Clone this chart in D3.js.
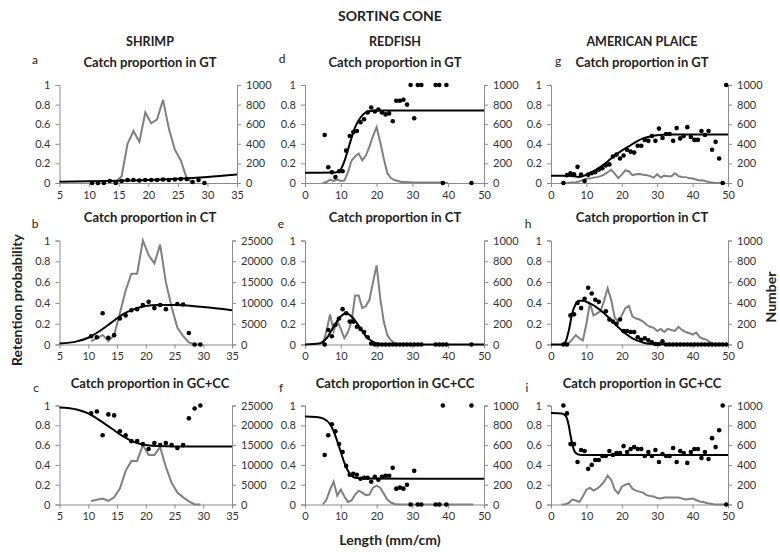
<!DOCTYPE html>
<html><head><meta charset="utf-8">
<script src="https://cdn.jsdelivr.net/npm/d3@7/dist/d3.min.js"></script>
<style>body{margin:0;background:#fff;} svg{display:block;font-family:Lato,'Open Sans',sans-serif;}</style>
</head><body><svg id="c" width="780" height="552"></svg>
<script>
// ---------- DATA ----------
const speciesNames = ["SHRIMP", "REDFISH", "AMERICAN PLAICE"];
const panelTitles = ["Catch proportion in GT", "Catch proportion in CT", "Catch proportion in GC+CC"];
const panelLetters = [["a","b","c"],["d","e","f"],["g","h","i"]];
const shrimpTicks = [5,10,15,20,25,30,35];
const fishTicks = [0,10,20,30,40,50];
const numTicks1000 = [0,200,400,600,800,1000];
const numTicks25000 = [0,5000,10000,15000,20000,25000];
const probTicks = [0,0.2,0.4,0.6,0.8,1];

// a: shrimp GT
const aNum = [[13.5,30],[14.5,10],[15.5,70],[16.5,400],[17.5,530],[18.5,420],[19.5,720],[20.5,610],[21.5,650],[22.5,850],[23.5,550],[24.5,340],[25.5,230],[26.5,50],[27.5,0]];
const aDots = [[10.5,0],[11.5,0],[12.5,0],[13.5,0.02],[14.5,0],[15.5,0.02],[16.5,0.03],[17.5,0.03],[18.5,0.025],[19.5,0.03],[20.5,0.03],[21.5,0.03],[22.5,0.035],[23.5,0.03],[24.5,0.035],[25.5,0.04],[26.5,0.04],[27.5,0.01],[28.5,0.03],[29.5,0]];
const aFit = [[5,0.013],[10,0.017],[15,0.023],[20,0.03],[25,0.043],[30,0.062],[35,0.087]];
// b: shrimp CT
const bNum = [[10.5,800],[11.5,1500],[12.5,2300],[13.5,800],[14.5,2200],[15.5,7500],[16.5,13000],[17.5,17000],[18.5,17000],[19.5,25000],[20.5,21500],[21.5,19500],[22.5,24000],[23.5,15000],[24.5,9000],[25.5,4000],[26.5,2000],[27.5,500],[28.5,0],[29.5,0]];
const bDots = [[10.5,0.08],[11.5,0.07],[12.5,0.3],[13.5,0.065],[14.5,0.09],[15.5,0.25],[16.5,0.28],[17.5,0.33],[18.5,0.34],[19.5,0.38],[20.5,0.41],[21.5,0.35],[22.5,0.38],[23.5,0.34],[25.5,0.39],[26.5,0.385],[27.5,0.11],[28.5,0],[29.5,0]];
const bFit = [[5,0.01],[8,0.03],[10,0.065],[12,0.13],[14,0.21],[16,0.29],[18,0.34],[20,0.37],[22,0.38],[25,0.38],[30,0.36],[35,0.33]];
// c: shrimp GC+CC
const cNum = [[10.5,900],[11.5,1200],[12.5,1500],[13.5,900],[14.5,1800],[15.5,4000],[16.5,8500],[17.5,11000],[18.5,11000],[19.5,15000],[20.5,12500],[21.5,12500],[22.5,14500],[23.5,9500],[24.5,5500],[25.5,3000],[26.5,1800],[27.5,800],[28.5,0],[29.5,0]];
const cDots = [[10.5,0.92],[11.5,0.94],[12.5,0.7],[13.5,0.91],[14.5,0.9],[15.5,0.74],[16.5,0.7],[17.5,0.64],[18.5,0.64],[19.5,0.61],[20.5,0.56],[21.5,0.62],[22.5,0.6],[23.5,0.62],[24.5,0.6],[25.5,0.57],[26.5,0.6],[27.5,0.87],[28.5,0.97],[29.5,1.0]];
const cFit = [[5,0.98],[8,0.96],[10,0.92],[12,0.85],[14,0.77],[16,0.69],[18,0.63],[20,0.6],[22,0.59],[25,0.585],[35,0.585]];
// d: redfish GT
const dNum = [[5,0],[6,10],[7,35],[8,20],[9,35],[10,20],[11,25],[12,110],[13,230],[14,270],[15,300],[16,230],[17,280],[18,370],[19,480],[20,570],[21,420],[22,250],[23,100],[24,50],[25,30],[26,20],[27,10],[28,10],[30,5],[35,5],[38,5],[40,0]];
const dDots = [[5.5,0.49],[6.5,0.16],[7.5,0.11],[8.5,0.06],[9.5,0.12],[10.5,0.12],[11.5,0.33],[12.5,0.48],[13.5,0.52],[14.5,0.53],[15.5,0.62],[16.5,0.65],[17.5,0.72],[18.5,0.77],[19.5,0.73],[20.5,0.75],[21.5,0.72],[22.5,0.7],[23.5,0.71],[24.5,0.63],[25.5,0.84],[26.5,0.84],[27.5,0.85],[28.5,0.8],[29.5,1],[30.5,0.66],[31.5,1],[32.5,1],[36.5,1],[37.5,1],[38.5,0],[39.5,1],[46.5,0]];
const dFit = [[0,0.105],[8,0.106],[9,0.112],[10,0.14],[11,0.22],[12,0.34],[13,0.46],[14,0.57],[15,0.64],[16,0.69],[17,0.72],[18,0.733],[20,0.74],[50,0.74]];
// e: redfish CT
const eNum = [[5,0],[6,130],[7,290],[8,130],[9,230],[10,150],[11,60],[12,120],[13,220],[14,470],[15,470],[16,350],[17,370],[18,430],[19,600],[20,760],[21,450],[22,220],[23,90],[24,40],[25,15],[26,0]];
const eDots = [[5.5,0],[6.5,0.14],[7.5,0.08],[8.5,0.19],[9.5,0.25],[10.5,0.34],[11.5,0.3],[12.5,0.22],[13.5,0.22],[14.5,0.17],[15.5,0.15],[16.5,0.12],[17.5,0.07],[18.5,0.01],[19.5,0],[20.5,0],[21.5,0],[22.5,0],[23.5,0],[24.5,0],[25.5,0],[26.5,0],[27.5,0],[28.5,0],[29.5,0],[30.5,0],[31.5,0],[32.5,0],[36.5,0],[37.5,0],[38.5,0],[39.5,0],[46.5,0]];
const eFit = [[0,0],[4,0.01],[6,0.06],[8,0.17],[10,0.27],[11.5,0.3],[13,0.27],[15,0.18],[17,0.08],[19,0.025],[21,0.006],[25,0],[50,0]];
// f: redfish GC+CC
const fNum = [[5,0],[6,50],[7,150],[8,230],[9,90],[10,150],[11,80],[12,25],[13,40],[14,100],[15,140],[16,120],[17,95],[18,100],[19,170],[20,190],[21,170],[22,110],[23,50],[24,20],[25,5],[26,0],[47,0]];
const fDots = [[5.5,0.5],[6.5,0.7],[7.5,0.81],[8.5,0.74],[9.5,0.61],[10.5,0.53],[11.5,0.39],[12.5,0.3],[13.5,0.31],[14.5,0.3],[15.5,0.26],[16.5,0.27],[17.5,0.27],[18.5,0.23],[19.5,0.28],[20.5,0.25],[21.5,0.28],[22.5,0.29],[23.5,0.29],[24.5,0.37],[25.5,0.16],[26.5,0.17],[27.5,0.16],[28.5,0.2],[29.5,0],[30.5,0.34],[31.5,0],[32.5,0],[36.5,0],[37.5,0],[38.5,1],[39.5,0],[46.5,1]];
const fFit = [[0,0.89],[3,0.885],[5,0.87],[7,0.81],[8,0.74],[9,0.64],[10,0.53],[11,0.42],[12,0.34],[13,0.29],[14,0.27],[16,0.262],[50,0.26]];
// g: plaice GT
const gNum = [[3,0],[5,3],[7,8],[8,15],[9,30],[10,45],[11,45],[12,55],[13,60],[14,70],[15,85],[16,110],[17,135],[18,95],[19,50],[20,85],[21,128],[22,120],[23,80],[24,90],[25,92],[26,85],[27,80],[28,70],[29,55],[30,90],[31,55],[32,75],[33,70],[34,68],[35,100],[36,70],[37,62],[38,60],[39,50],[40,45],[41,35],[42,25],[43,25],[44,15],[45,8],[46,2],[47,0],[48,0]];
const gDots = [[3.5,0],[4.5,0.08],[5.5,0.1],[6.5,0.09],[7.5,0.165],[8.5,0.085],[9.5,0.02],[10.5,0.085],[11.5,0.1],[12.5,0.11],[13.5,0.135],[14.5,0.15],[15.5,0.18],[16.5,0.19],[17.5,0.27],[18.5,0.29],[19.5,0.25],[20.5,0.28],[21.5,0.34],[22.5,0.32],[23.5,0.31],[24.5,0.38],[25.5,0.38],[26.5,0.44],[27.5,0.43],[28.5,0.48],[29.5,0.43],[30.5,0.555],[31.5,0.46],[32.5,0.5],[33.5,0.5],[34.5,0.43],[35.5,0.56],[36.5,0.455],[37.5,0.48],[38.5,0.57],[39.5,0.47],[40.5,0.44],[41.5,0.44],[42.5,0.53],[43.5,0.49],[44.5,0.53],[45.5,0.34],[46.5,0.42],[47.5,0.25],[48.5,0],[49.5,1]];
const gFit = [[0,0.075],[5,0.075],[8,0.062],[10,0.085],[12,0.12],[14,0.165],[16,0.22],[18,0.28],[20,0.33],[22,0.375],[24,0.42],[26,0.455],[28,0.475],[30,0.487],[33,0.495],[50,0.495]];
// h: plaice CT
const hNum = [[4,0],[5,10],[6,50],[7,90],[8,60],[9,40],[10,200],[11,400],[12,280],[13,300],[14,320],[15,420],[16,540],[17,430],[18,260],[19,220],[20,280],[21,350],[22,370],[23,270],[24,250],[25,240],[26,220],[27,190],[28,170],[29,160],[30,130],[31,150],[32,120],[33,150],[34,140],[35,130],[36,170],[37,140],[38,120],[39,110],[40,95],[41,115],[42,70],[43,55],[44,45],[45,20],[46,0],[47,0],[48,0],[49,0]];
const hDots = [[3.5,0],[4.5,0],[5.5,0.28],[6.5,0.29],[7.5,0.4],[8.5,0.35],[9.5,0.44],[10.5,0.545],[11.5,0.49],[12.5,0.43],[13.5,0.41],[15.5,0.32],[16.5,0.24],[17.5,0.22],[18.5,0.2],[19.5,0.24],[20.5,0.13],[21.5,0.13],[22.5,0.12],[23.5,0.12],[24.5,0.07],[25.5,0.045],[26.5,0.06],[27.5,0.04],[28.5,0.02],[29.5,0.005],[30.5,0.005],[31.5,0.03],[32.5,0],[33.5,0],[34.5,0],[35.5,0],[36.5,0],[37.5,0],[38.5,0],[39.5,0],[40.5,0],[41.5,0],[42.5,0],[43.5,0],[44.5,0],[45.5,0],[46.5,0],[47.5,0],[48.5,0],[49.5,0]];
const hFit = [[0,0],[3,0],[4,0.02],[5,0.13],[6,0.3],[7,0.39],[8,0.42],[9,0.42],[11,0.395],[13,0.355],[15,0.3],[17,0.235],[19,0.165],[21,0.105],[23,0.06],[25,0.03],[27,0.01],[30,0.002],[50,0]];
// i: plaice GC+CC
const iNum = [[3,0],[4,2],[5,15],[6,50],[7,40],[8,25],[9,80],[10,150],[11,170],[12,140],[13,160],[14,190],[15,230],[16,290],[17,250],[18,150],[19,110],[20,180],[21,200],[22,210],[23,160],[24,140],[25,130],[26,120],[27,95],[28,85],[29,80],[30,65],[31,60],[32,70],[33,70],[34,70],[35,70],[36,70],[37,60],[38,50],[39,55],[40,60],[41,45],[42,30],[43,25],[44,15],[45,8],[46,3],[47,0],[48,0],[49,0]];
const iDots = [[3.5,1],[4.5,0.92],[5.5,0.61],[6.5,0.61],[7.5,0.43],[8.5,0.55],[9.5,0.54],[10.5,0.36],[11.5,0.4],[12.5,0.45],[13.5,0.45],[14.5,0.49],[15.5,0.49],[16.5,0.54],[17.5,0.5],[18.5,0.52],[19.5,0.52],[20.5,0.59],[21.5,0.53],[22.5,0.56],[23.5,0.58],[24.5,0.56],[25.5,0.56],[26.5,0.49],[27.5,0.53],[28.5,0.49],[29.5,0.55],[30.5,0.43],[31.5,0.51],[32.5,0.49],[33.5,0.49],[34.5,0.57],[35.5,0.43],[36.5,0.54],[37.5,0.52],[38.5,0.42],[39.5,0.53],[40.5,0.56],[41.5,0.56],[42.5,0.47],[43.5,0.53],[44.5,0.46],[45.5,0.67],[46.5,0.58],[47.5,0.75],[48.5,1],[49.5,0]];
const iFit = [[0,0.925],[3,0.92],[4,0.9],[4.5,0.87],[5,0.8],[5.5,0.7],[6,0.61],[6.5,0.55],[7,0.52],[8,0.503],[10,0.5],[50,0.5]];

// ---------- LAYOUT ----------
const svg = d3.select("#c");
const colX0 = [59.5, 305, 551];
const colX1 = [[237, 232, 232],[484, 484, 484],[728, 728, 728]];
const rowY1 = [85, 240.5, 405.5];
const rowY0 = [183, 344.5, 504.5];
const titleX = [150, 395, 642];
const subY = [62.5, 217.5, 383];
const letterPos = [[[35,60],[35,224],[36,388]],[[282,59],[281,224],[281,388]],[[558,61],[528,224],[527,388]]];

const panels = [
  {c:0,r:0,num:aNum,dots:aDots,fit:aFit,xd:[5,35],xt:shrimpTicks,rmax:1000,rt:numTicks1000},
  {c:0,r:1,num:bNum,dots:bDots,fit:bFit,xd:[5,35],xt:shrimpTicks,rmax:25000,rt:numTicks25000},
  {c:0,r:2,num:cNum,dots:cDots,fit:cFit,xd:[5,35],xt:shrimpTicks,rmax:25000,rt:numTicks25000},
  {c:1,r:0,num:dNum,dots:dDots,fit:dFit,xd:[0,50],xt:fishTicks,rmax:1000,rt:numTicks1000},
  {c:1,r:1,num:eNum,dots:eDots,fit:eFit,xd:[0,50],xt:fishTicks,rmax:1000,rt:numTicks1000},
  {c:1,r:2,num:fNum,dots:fDots,fit:fFit,xd:[0,50],xt:fishTicks,rmax:1000,rt:numTicks1000},
  {c:2,r:0,num:gNum,dots:gDots,fit:gFit,xd:[0,50],xt:fishTicks,rmax:1000,rt:numTicks1000},
  {c:2,r:1,num:hNum,dots:hDots,fit:hFit,xd:[0,50],xt:fishTicks,rmax:1000,rt:numTicks1000},
  {c:2,r:2,num:iNum,dots:iDots,fit:iFit,xd:[0,50],xt:fishTicks,rmax:1000,rt:numTicks1000}
];

const axisCol = "#8c8c8c", txtCol = "#333";
function styleAxis(g){
  g.select(".domain").attr("stroke", axisCol).attr("stroke-width", 1);
  g.selectAll(".tick line").attr("stroke", axisCol);
  g.selectAll(".tick text").attr("fill", txtCol).style("font-size","11px").style("font-family","Lato,sans-serif");
}

panels.forEach(p => {
  const x0 = colX0[p.c], x1 = colX1[p.c][p.r], y0 = rowY0[p.r], y1 = rowY1[p.r];
  const x = d3.scaleLinear().domain(p.xd).range([x0, x1]);
  const y = d3.scaleLinear().domain([0,1]).range([y0, y1]);
  const yr = d3.scaleLinear().domain([0,p.rmax]).range([y0, y1]);
  const g = svg.append("g");
  g.append("g").attr("transform",`translate(${x0},0)`)
    .call(d3.axisLeft(y).tickValues(probTicks).tickFormat(d3.format("~g")).tickSize(4).tickPadding(5)).call(styleAxis);
  g.append("g").attr("transform",`translate(${x1},0)`)
    .call(d3.axisRight(yr).tickValues(p.rt).tickFormat(d3.format("d")).tickSize(4).tickPadding(5)).call(styleAxis);
  g.append("g").attr("transform",`translate(0,${y0})`)
    .call(d3.axisBottom(x).tickValues(p.xt).tickSize(4).tickPadding(4).tickSizeOuter(0)).call(styleAxis);
  g.append("path").datum(p.num).attr("fill","none").attr("stroke","#808080").attr("stroke-width",2)
    .attr("d", d3.line().x(d=>x(d[0])).y(d=>yr(d[1])));
  g.append("path").datum(p.fit).attr("fill","none").attr("stroke","#000").attr("stroke-width",2)
    .attr("d", d3.line().curve(d3.curveMonotoneX).x(d=>x(d[0])).y(d=>y(d[1])));
  g.selectAll("circle.dot").data(p.dots).enter().append("circle").attr("class","dot")
    .attr("cx", d=>x(d[0])).attr("cy", d=>y(d[1])).attr("r", 2.3).attr("fill","#000");
});

// ---------- TEXT ----------
svg.append("text").attr("x",390).attr("y",16).attr("dy","0.35em").attr("text-anchor","middle")
  .style("font-weight","bold").style("font-size","14px").attr("fill","#222").text("SORTING CONE");
speciesNames.forEach((s,i)=>{
  svg.append("text").attr("x",titleX[i]).attr("y",42).attr("dy","0.35em").attr("text-anchor","middle")
    .style("font-weight","bold").style("font-size","12.5px").attr("fill","#222").text(s);
  panelTitles.forEach((t,r)=>{
    svg.append("text").attr("x",titleX[i]).attr("y",subY[r]).attr("dy","0.35em").attr("text-anchor","middle")
      .style("font-weight","bold").style("font-size","13px").attr("fill","#222").text(t);
    const lp = letterPos[i][r];
    svg.append("text").attr("x",lp[0]).attr("y",lp[1]).attr("dy","0.35em").attr("text-anchor","middle")
      .style("font-size","12px").attr("fill","#222").text(panelLetters[i][r]);
  });
});
svg.append("text").attr("transform","translate(17,300) rotate(-90)").attr("dy","0.35em").attr("text-anchor","middle")
  .style("font-weight","bold").style("font-size","14px").attr("fill","#222").text("Retention probability");
svg.append("text").attr("transform","translate(771,297) rotate(-90)").attr("dy","0.35em").attr("text-anchor","middle")
  .style("font-weight","bold").style("font-size","14px").attr("fill","#222").text("Number");
svg.append("text").attr("x",390).attr("y",540).attr("dy","0.35em").attr("text-anchor","middle")
  .style("font-weight","bold").style("font-size","14px").attr("fill","#222").text("Length (mm/cm)");
</script></body></html>
